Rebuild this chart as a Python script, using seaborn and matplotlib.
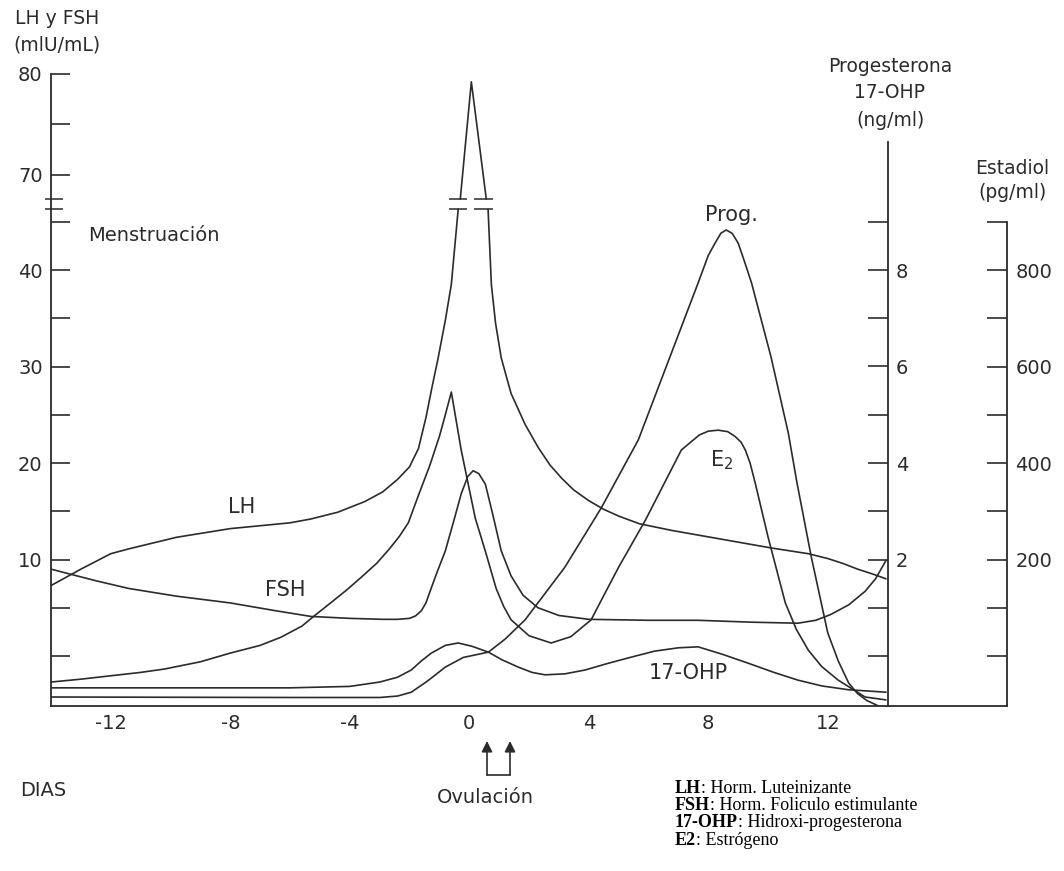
"""
Ciclo menstrual: LH, FSH, E2, progesterona y 17-OHP (esquema)
"""

import numpy as np
import pandas as pd
import matplotlib
matplotlib.use('Agg')
import matplotlib.pyplot as plt
import seaborn as sns
from matplotlib.lines import Line2D

W, H = 1064, 871
INK = '#2b2b2b'

# ==============================================================================
# DATA
# ==============================================================================
# LH (mIU/mL), split at the broken part of the left axis
lh_rise_days = [-14, -13, -12, -11.4, -9.8, -8, -7, -6, -5.3, -4.4, -3.5, -2.9, -2.4,
                -2.0, -1.7, -1.45, -1.25, -1.04, -0.8, -0.6, -0.37]
lh_rise_vals = [7.3, 9.0, 10.6, 11.1, 12.3, 13.2, 13.5, 13.8, 14.2, 14.9, 16.0, 17.0, 18.3,
                19.6, 21.5, 24.7, 27.8, 30.9, 34.8, 38.5, 46.3]
lh_peak_days = [-0.30, 0.07, 0.57]
lh_peak_vals = [67.6, 79.2, 67.6]
lh_fall_days = [0.63, 0.74, 0.88, 1.07, 1.4, 1.87, 2.31, 2.7, 3.1, 3.5, 4.0, 4.5, 5.0,
                5.7, 6.8, 7.9, 9.0, 10.1, 11.35, 12.0, 12.5, 13.0, 13.5, 13.95]
lh_fall_vals = [46.3, 38.5, 34.5, 30.9, 27.2, 24.0, 21.6, 19.8, 18.4, 17.2, 16.1, 15.2, 14.5,
                13.7, 13.0, 12.4, 11.8, 11.2, 10.6, 10.1, 9.6, 9.0, 8.5, 8.0]

# FSH (mIU/mL)
fsh_days = [-14, -12.5, -11.4, -9.8, -8, -6.5, -5.3, -4, -2.9, -2.4, -2.0, -1.8, -1.6,
            -1.45, -1.3, -1.1, -0.8, -0.5, -0.27, -0.05, 0.13, 0.32, 0.54, 0.8, 1.07,
            1.4, 1.8, 2.3, 3.0, 4.0, 6.0, 7.66, 9.5, 11.0, 11.6, 12.1, 12.7, 13.25,
            13.6, 13.95]
fsh_vals = [9.0, 7.8, 7.0, 6.2, 5.5, 4.7, 4.1, 3.9, 3.8, 3.8, 3.9, 4.15, 4.7,
            5.5, 6.8, 8.5, 10.9, 14.2, 16.8, 18.6, 19.2, 18.9, 17.8, 14.5, 10.9,
            8.3, 6.3, 5.0, 4.2, 3.8, 3.7, 3.7, 3.5, 3.4, 3.7, 4.3, 5.3, 6.7,
            8.0, 9.9]

# Estradiol (pg/ml)
e2_days = [-14, -13, -12, -11, -10.2, -9, -8, -7, -6.3, -5.6, -5.15, -4.6, -4.1, -3.6,
           -3.1, -2.7, -2.35, -2.04, -1.7, -1.32, -1.0, -0.8, -0.6, -0.27, 0.2, 0.54,
           0.9, 1.15, 1.4, 2.0, 2.74, 3.4, 4.08, 4.5, 5.0, 5.9, 7.1, 7.7, 8.0, 8.33,
           8.65, 8.9, 9.1, 9.24, 9.4, 9.57, 10.0, 10.58, 10.95, 11.35, 11.8, 12.35,
           13.25, 13.95]
e2_vals = [-54, -48, -41, -34, -27, -12, 6, 22, 39, 62, 85, 112, 137, 164,
           192, 220, 247, 276, 333, 395, 455, 500, 547, 427, 286, 217,
           140, 103, 75, 42, 27, 40, 75, 125, 184, 282, 427, 458, 466, 468,
           465, 455, 443, 427, 400, 359, 247, 110, 55, 12, -22, -50,
           -85, -91]

# Progesterona (ng/ml)
prog_days = [-14, -6, -3.0, -2.4, -1.94, -1.4, -0.8, -0.2, 0.64, 1.2, 1.87, 3.2, 4.42,
             5.66, 7.1, 7.66, 8.0, 8.23, 8.42, 8.6, 8.8, 9.0, 9.2, 9.45, 10.1, 10.68,
             10.97, 11.45, 12.0, 12.35, 12.7, 13.0, 13.3, 13.85]
prog_vals = [-0.85, -0.86, -0.86, -0.83, -0.75, -0.52, -0.23, -0.03, 0.08, 0.35, 0.75, 1.84, 3.07,
             4.48, 6.82, 7.73, 8.3, 8.56, 8.76, 8.83, 8.76, 8.56, 8.2, 7.73, 6.2, 4.62,
             3.59, 2.05, 0.48, -0.1, -0.56, -0.78, -0.92, -1.08]

# 17-OHP (ng/ml)
ohp_days = [-14, -6, -4, -3.0, -2.4, -1.94, -1.6, -1.27, -0.8, -0.37, 0.1, 0.64, 1.1,
            1.64, 2.1, 2.54, 3.2, 3.88, 4.6, 5.32, 6.2, 7.0, 7.66, 8.5, 9.34, 10.2,
            11.0, 11.8, 12.7, 13.95]
ohp_vals = [-0.66, -0.66, -0.63, -0.54, -0.44, -0.29, -0.1, 0.06, 0.22, 0.27, 0.2, 0.08, -0.08,
            -0.23, -0.34, -0.39, -0.37, -0.29, -0.16, -0.04, 0.1, 0.17, 0.19, 0.03, -0.15, -0.34,
            -0.5, -0.62, -0.7, -0.75]

# axes ticks and labels
x_ticks = [-12, -10, -8, -6, -4, -2, 0, 2, 4, 6, 8, 10, 12, 16]
x_labels = ['-12', '', '-8', '', '-4', '', '0', '', '4', '', '8', '', '12', '']
lh_ticks = [0, 5, 10, 15, 20, 25, 30, 35, 40, 45, 70, 75, 80]
lh_labels = ['', '', '10', '', '20', '', '30', '', '40', '', '70', '', '80']
prog_ticks = [0, 1, 2, 3, 4, 5, 6, 7, 8, 9]
prog_labels = ['', '', '2', '', '4', '', '6', '', '8', '']
e2_ticks = [0, 100, 200, 300, 400, 500, 600, 700, 800, 900]
e2_labels = ['', '', '200', '', '400', '', '600', '', '800', '']

# broken left axis: value knots -> scale positions
break_vals = [46.3, 67.6]
scale_v = [-60, 46.8, 67.5, 120]
scale_p = [-60 * 9.65, 46.8 * 9.65, 456, 456 + 52.5 * 10.1]

legend_keys = ['LH', 'FSH', '17-OHP', 'E2']
legend_desc = [': Horm. Luteinizante', ': Horm. Foliculo estimulante',
               ': Hidroxi-progesterona', ': Estrógeno']


def fwd(v):
    return np.interp(v, scale_v, scale_p)


def inv(p):
    return np.interp(p, scale_p, scale_v)


def fpx(x, y):
    return x / W, 1 - y / H


# ==============================================================================
# FIGURE
# ==============================================================================
sns.set_theme(style='white')
plt.rcParams['font.family'] = ['DejaVu Sans']

fig = plt.figure(figsize=(W / 100, H / 100), dpi=100)
ax = fig.add_axes([51 / W, (H - 706) / H, (1007 - 51) / W, (706 - 60) / H])
ax.set_yscale('function', functions=(fwd, inv))
ax.set_xlim(-14, 18)
ax.set_ylim(inv(-50), inv(596))

line_kw = dict(color=INK, linewidth=1.2, solid_joinstyle='round')
sns.lineplot(x=lh_rise_days, y=lh_rise_vals, ax=ax, **line_kw)
sns.lineplot(x=lh_peak_days, y=lh_peak_vals, ax=ax, **line_kw)
sns.lineplot(x=lh_fall_days, y=lh_fall_vals, ax=ax, **line_kw)
sns.lineplot(x=fsh_days, y=fsh_vals, ax=ax, **line_kw)

# break marks on the LH peak and on the left axis
for lvl in break_vals:
    ax.hlines(lvl, -0.67, -0.07, color=INK, linewidth=1.1)
    ax.hlines(lvl, 0.17, 0.80, color=INK, linewidth=1.1)
    ax.hlines(lvl, -14.2, -13.6, color=INK, linewidth=1.1, clip_on=False)

# progesterone / 17-OHP axis
ax2 = ax.twinx()
ax2.set_ylim(-50 / 48.25, 596 / 48.25)
sns.lineplot(x=prog_days, y=prog_vals, ax=ax2, **line_kw)
sns.lineplot(x=ohp_days, y=ohp_vals, ax=ax2, **line_kw)

# estradiol axis
ax3 = ax.twinx()
ax3.set_ylim(-5000 / 48.25, 59600 / 48.25)
sns.lineplot(x=e2_days, y=e2_vals, ax=ax3, **line_kw)

# ---- spines and ticks
for a in (ax, ax2, ax3):
    for s in a.spines.values():
        s.set_color(INK)
        s.set_linewidth(1.3)

ax.spines['top'].set_visible(False)
ax.spines['right'].set_visible(False)
ax.spines['left'].set_bounds(inv(-50), 80)
ax.set_xticks(x_ticks)
ax.set_xticklabels(x_labels)
ax.set_yticks(lh_ticks)
ax.set_yticklabels(lh_labels)
ax.minorticks_off()
ax.tick_params(axis='x', direction='in', length=11, width=1.2, pad=6,
               labelsize=14, colors=INK)
ax.tick_params(axis='y', direction='in', length=13.5, width=1.2, pad=6,
               labelsize=14, colors=INK)

for a, pos, top, ticks, labels in [(ax2, 14, 514 / 48.25, prog_ticks, prog_labels),
                                   (ax3, 18, 900, e2_ticks, e2_labels)]:
    for side in ('left', 'top', 'bottom'):
        a.spines[side].set_visible(False)
    a.spines['right'].set_position(('data', pos))
    a.spines['right'].set_bounds(a.get_ylim()[0], top)
    a.set_yticks(ticks)
    a.set_yticklabels(labels)
    a.tick_params(axis='y', direction='in', length=14.5, width=1.2, pad=6,
                  labelsize=14, colors=INK)
    a.grid(False)
    a.set_ylabel('')
ax.grid(False)

# ---- curve labels
lab_kw = dict(fontsize=15, color=INK, ha='center', va='center')
ax.text(-7.63, 15.4, 'LH', **lab_kw)
ax.text(-6.16, 6.8, 'FSH', **lab_kw)
ax.text(-12.75, 43.6, 'Menstruación', fontsize=14, color=INK, ha='left', va='center')
ax2.text(8.77, 9.14, 'Prog.', **lab_kw)
ax2.text(7.33, -0.35, '17-OHP', **lab_kw)
ax3.text(8.45, 406, 'E$_2$', **lab_kw)

# ---- axis titles
tit_kw = dict(fontsize=13.5, color=INK, ha='center', va='center')
fig.text(*fpx(57, 18), 'LH y FSH', **tit_kw)
fig.text(*fpx(57, 45), '(mlU/mL)', **tit_kw)
fig.text(*fpx(890, 67), 'Progesterona', **tit_kw)
fig.text(*fpx(890, 93), '17-OHP', **tit_kw)
fig.text(*fpx(890, 120), '(ng/ml)', **tit_kw)
fig.text(*fpx(1012, 168), 'Estadiol', **tit_kw)
fig.text(*fpx(1012, 193), '(pg/ml)', **tit_kw)
fig.text(*fpx(20, 790), 'DIAS', fontsize=14, color=INK, ha='left', va='center')
fig.text(*fpx(485, 797), 'Ovulación', fontsize=14, color=INK, ha='center', va='center')

# ---- ovulation arrows
for xa in (487, 510):
    fig.add_artist(matplotlib.patches.FancyArrowPatch(
        fpx(xa, 775), fpx(xa, 741), transform=fig.transFigure,
        arrowstyle='-|>', mutation_scale=16, color=INK, linewidth=1.2,
        shrinkA=0, shrinkB=0))
x0, y0 = fpx(487, 775)
x1, _ = fpx(510, 775)
fig.add_artist(Line2D([x0, x1], [y0, y0], transform=fig.transFigure,
                      color=INK, linewidth=1.2))

# ---- legend (serif, bold key)
for i, (k, d) in enumerate(zip(legend_keys, legend_desc)):
    t = fig.text(*fpx(675, 788 + i * 17.4), k, family='Liberation Serif',
                 fontweight='bold', fontsize=13, color='black', ha='left', va='center')
    ax.annotate(d, xy=(1, 0.5), xycoords=t, family='Liberation Serif',
                fontsize=13, color='black', ha='left', va='center',
                annotation_clip=False)

fig.savefig('out.png', dpi=100)
plt.close(fig)
